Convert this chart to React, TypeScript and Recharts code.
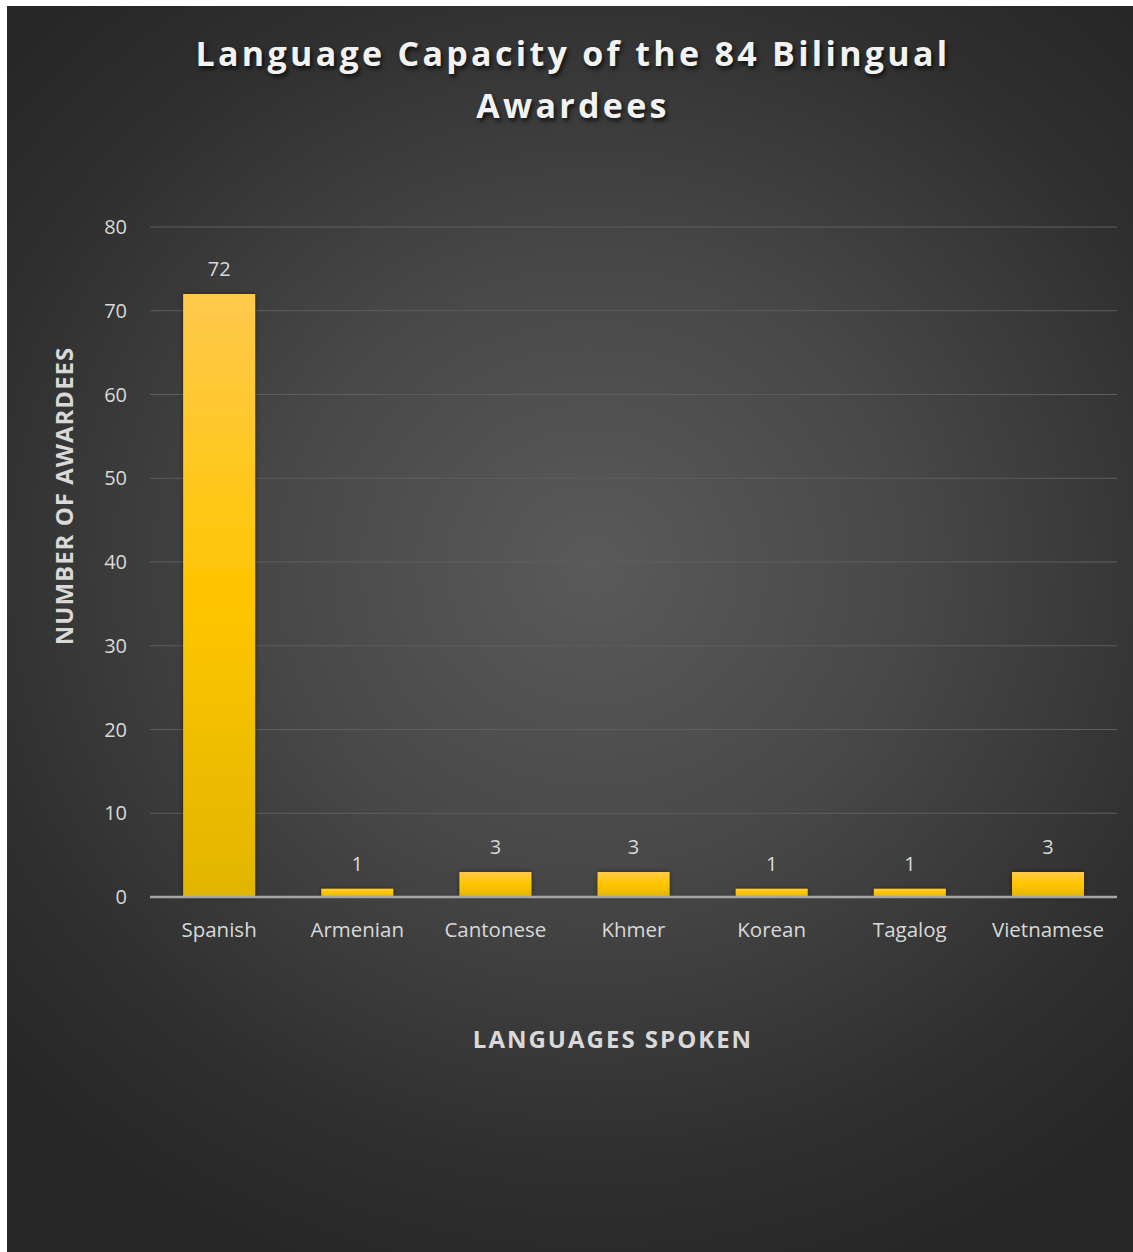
import React from "react";
import { BarChart, Bar, XAxis, YAxis, CartesianGrid, LabelList } from "recharts";

const categories = ["Spanish", "Armenian", "Cantonese", "Khmer", "Korean", "Tagalog", "Vietnamese"];
const awardees = [72, 1, 3, 3, 1, 1, 3];
const yTicks = [0, 10, 20, 30, 40, 50, 60, 70, 80];

const data = categories.map((c, i) => ({ name: c, value: awardees[i] }));

const FONT = "'Open Sans', 'Noto Sans', sans-serif";
const W = 1126;
const H = 1246;

export default function App() {
  return (
    <div
      style={{
        position: "absolute",
        left: 7,
        top: 6,
        width: W,
        height: H,
        background: "radial-gradient(ellipse 70% 60% at 52% 45%, #5a5a5a 0%, #484848 40%, #2f2f2f 80%, #272727 100%)",
        fontFamily: FONT,
        overflow: "hidden",
      }}
    >
      <div
        style={{
          position: "absolute",
          left: 0,
          top: 21,
          width: W,
          textAlign: "center",
          color: "#f2f2f2",
          fontWeight: 700,
          fontSize: 34,
          letterSpacing: 3.3,
          lineHeight: "52px",
          textShadow: "2px 3px 4px rgba(0,0,0,0.7)",
          paddingLeft: 6,
          boxSizing: "border-box",
        }}
      >
        Language Capacity of the 84 Bilingual
        <br />
        Awardees
      </div>
      <div
        style={{
          position: "absolute",
          left: 57 - 200,
          top: 490 - 15,
          width: 400,
          height: 30,
          lineHeight: "30px",
          textAlign: "center",
          transform: "rotate(-90deg)",
          color: "#d9d9d9",
          fontWeight: 700,
          fontSize: 24,
          letterSpacing: 1,
        }}
      >
        NUMBER OF AWARDEES
      </div>
      <div
        style={{
          position: "absolute",
          left: 606 - 250,
          top: 1018,
          width: 500,
          textAlign: "center",
          color: "#d9d9d9",
          fontWeight: 700,
          fontSize: 24,
          letterSpacing: 2,
          lineHeight: "30px",
        }}
      >
        LANGUAGES SPOKEN
      </div>
      <div style={{ position: "absolute", left: 0, top: 0 }}>
        <BarChart
          width={W}
          height={H}
          data={data}
          margin={{ top: 221, right: 16, bottom: 295, left: 0 }}
          barCategoryGap="24%"
        >
          <defs>
            <linearGradient id="barGrad" x1="0" y1="0" x2="0" y2="1">
              <stop offset="0%" stopColor="#ffc94c" />
              <stop offset="50%" stopColor="#ffc600" />
              <stop offset="100%" stopColor="#e1b500" />
            </linearGradient>
            <filter id="barShadow" x="-20%" y="-20%" width="140%" height="140%">
              <feDropShadow dx="0" dy="0" stdDeviation="2.5" floodColor="#000" floodOpacity="0.45" />
            </filter>
          </defs>
          <CartesianGrid vertical={false} stroke="#5e5e5e" strokeWidth={1.2} />
          <XAxis
            dataKey="name"
            height={60}
            axisLine={{ stroke: "#a6a6a6", strokeWidth: 2.5 }}
            tickLine={false}
            tickSize={0}
            tickMargin={25}
            tick={{ fill: "#d9d9d9", fontSize: 20.5, fontFamily: FONT }}
            interval={0}
          />
          <YAxis
            width={143}
            domain={[0, 80]}
            ticks={yTicks}
            axisLine={false}
            tickLine={false}
            tickSize={0}
            tickMargin={23}
            tick={{ fill: "#d9d9d9", fontSize: 20, fontFamily: FONT }}
          />
          <Bar dataKey="value" fill="url(#barGrad)" isAnimationActive={false} filter="url(#barShadow)">
            <LabelList
              dataKey="value"
              position="top"
              offset={18}
              fill="#d9d9d9"
              fontSize={20}
              fontFamily={FONT}
            />
          </Bar>
        </BarChart>
      </div>
    </div>
  );
}
